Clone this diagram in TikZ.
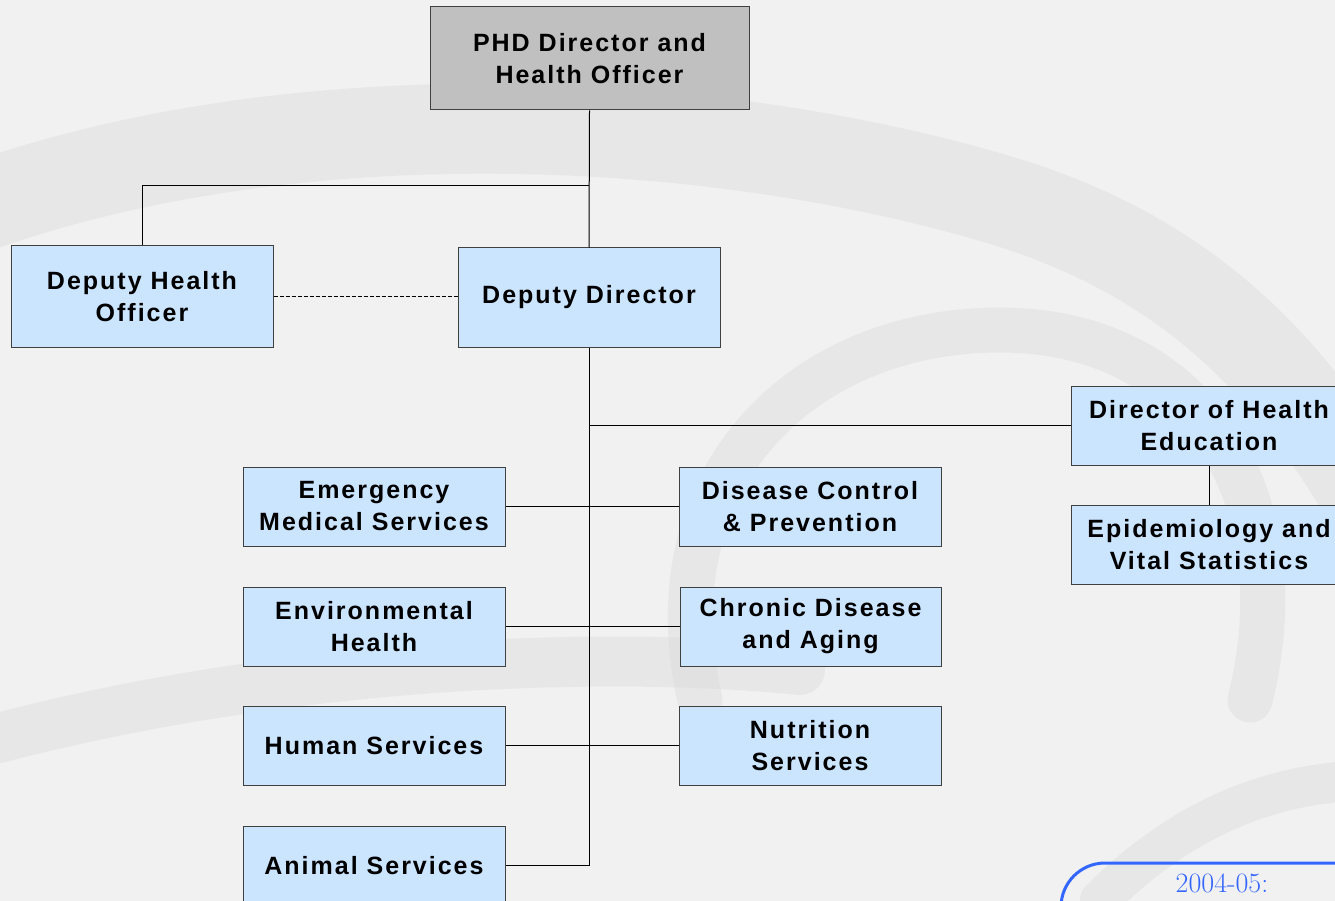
\documentclass[tikz,border=0pt]{standalone}
\usepackage{fontspec}
\newfontfamily\boxfont[LetterSpace=8]{Liberation Sans}
\definecolor{bg}{HTML}{F1F1F1}
\definecolor{bgshade}{HTML}{DADADA}
\definecolor{boxblue}{HTML}{CCE5FF}
\definecolor{boxgray}{HTML}{C0C0C0}
\definecolor{boxline}{HTML}{404040}
\definecolor{noteblue}{HTML}{3366FF}
\tikzset{
  orgbox/.style={draw=boxline, fill=boxblue, line width=1pt, align=center, inner sep=0pt,
    minimum width=262pt, minimum height=79pt,
    font=\boxfont\bfseries\fontsize{25}{32}\selectfont},
  topbox/.style={orgbox, fill=boxgray},
  link/.style={draw=black, line width=1pt},
  dottedlink/.style={link, dash pattern=on 4pt off 2pt},
  shade/.style={bgshade, opacity=0.4, line cap=round},
}
\begin{document}
\begin{tikzpicture}[x=1pt,y=-1pt]
\useasboundingbox (0,0) rectangle (1335,901);
\clip (0,0) rectangle (1335,901);
\fill[bg] (0,0) rectangle (1335,901);
% faint background (stethoscope-like swoops)
\draw[shade, line width=90pt] (-80,230) .. controls (250,90) and (700,110) .. (1000,200) .. controls (1200,260) and (1300,380) .. (1380,520);
\draw[shade, line width=45pt] (700,700) .. controls (650,480) and (800,330) .. (1000,330) .. controls (1200,330) and (1300,500) .. (1250,700);
\draw[shade, line width=50pt] (-80,760) .. controls (250,660) and (600,650) .. (800,670);
\draw[shade, line width=40pt] (1100,900) .. controls (1200,800) and (1300,780) .. (1380,780);

% boxes
\node[topbox, minimum width=319pt, minimum height=103pt] (phd) at (589.5,58.5) {PHD Director and\\Health Officer};
\node[orgbox, minimum height=101pt] (dho) at (142,296.5) {Deputy Health\\Officer};
\node[orgbox, minimum height=99pt] (dd) at (589,297.5) {Deputy Director};
\node[orgbox, minimum width=276pt] (dhe) at (1209,425.5) {Director of Health\\Education};
\node[orgbox, minimum width=276pt] (epi) at (1209,544.5) {Epidemiology and\\Vital Statistics};
\node[orgbox] (ems) at (374,506.5) {Emergency\\Medical Services};
\node[orgbox] (dcp) at (810,506.5) {Disease Control\\\& Prevention};
\node[orgbox] (eh) at (374,626.5) {Environmental\\Health};
\node[orgbox, minimum width=261pt] (cda) at (810.5,626.5) {Chronic Disease\\and Aging};
\node[orgbox] (hs) at (374,745.5) {Human Services};
\node[orgbox] (ns) at (810,745.5) {Nutrition\\Services};
\node[orgbox] (as) at (374,865.5) {Animal Services};

% connectors
\coordinate (j1) at (589,186);
\draw[link] (phd.south) -- (dd.north);
\draw[link] (dho.north) |- (j1);
\draw[dottedlink] (dho.east) -- (dho.east -| dd.west);
\draw[link] (dd.south) -- (dd.south |- as.east) -- (as.east);
\draw[link] (dd.south |- dhe.west) -- (dhe.west);
\draw[link] (ems.east) -- (dcp.west);
\draw[link] (eh.east) -- (cda.west);
\draw[link] (hs.east) -- (ns.west);
\draw[link] (dhe.south) -- (epi.north);

% note box (cut off by the page edge)
\draw[noteblue, line width=3pt, rounded corners=44pt] (1061,960) -- (1061,863) -- (1400,863);
\node[noteblue, anchor=north, inner sep=0pt, font=\fontsize{28}{32}\selectfont] (note) at (1222,874) {2004-05:};
\end{tikzpicture}
\end{document}
